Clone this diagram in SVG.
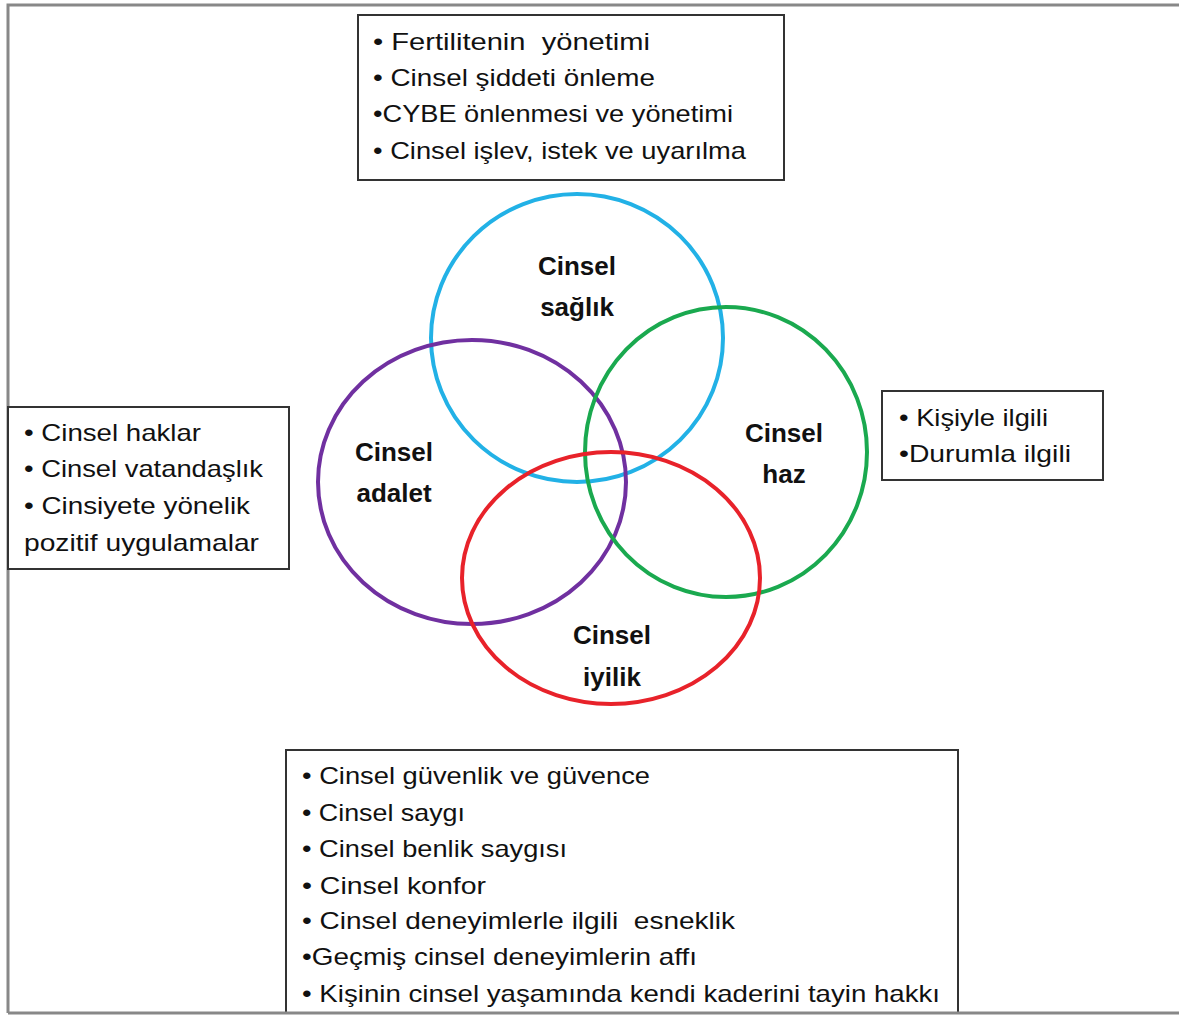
<svg xmlns="http://www.w3.org/2000/svg" width="1179" height="1016" viewBox="0 0 1179 1016">
<style>
.box{fill:#fff;stroke:#333;stroke-width:2}
.t{font-family:"Liberation Sans",Arial,sans-serif;font-size:24px;fill:#111;white-space:pre}
.h{font-family:"Liberation Sans",Arial,sans-serif;font-size:26px;font-weight:bold;fill:#111;text-anchor:middle}
.c{fill:none;stroke-width:4}
</style>
<rect x="0" y="0" width="1179" height="1016" fill="#fff"/>
<path d="M8 1013 V5 H1179" fill="none" stroke="#888" stroke-width="3"/>
<g id="circles">
<g id="saglik"><ellipse class="c" cx="577" cy="338" rx="146" ry="144" stroke="#22b1e6"/></g>
<g id="adalet"><ellipse class="c" cx="472" cy="482" rx="154" ry="142" stroke="#7030a0"/></g>
<g id="haz"><ellipse class="c" cx="726" cy="452" rx="141" ry="145" stroke="#1aa94f"/></g>
<g id="iyilik"><ellipse class="c" cx="611" cy="578" rx="149" ry="126" stroke="#e8222a"/></g>
</g>
<g id="labels">
<text class="h" x="577" y="275">Cinsel</text><text class="h" x="577" y="316">sağlık</text>
<text class="h" x="394" y="461">Cinsel</text><text class="h" x="394" y="502">adalet</text>
<text class="h" x="784" y="442">Cinsel</text><text class="h" x="784" y="483">haz</text>
<text class="h" x="612" y="644">Cinsel</text><text class="h" x="612" y="686">iyilik</text>
</g>
<g id="box-top">
<rect class="box" x="358" y="15" width="426" height="165"/>
<text class="t" x="373" y="50" textLength="277" lengthAdjust="spacingAndGlyphs" xml:space="preserve">• Fertilitenin  yönetimi</text>
<text class="t" x="373" y="86" textLength="282" lengthAdjust="spacingAndGlyphs">• Cinsel şiddeti önleme</text>
<text class="t" x="373" y="122" textLength="360" lengthAdjust="spacingAndGlyphs">•CYBE önlenmesi ve yönetimi</text>
<text class="t" x="373" y="159" textLength="373" lengthAdjust="spacingAndGlyphs">• Cinsel işlev, istek ve uyarılma</text>
</g>
<g id="box-left">
<rect class="box" x="8" y="407" width="281" height="162"/>
<text class="t" x="24" y="441" textLength="177" lengthAdjust="spacingAndGlyphs">• Cinsel haklar</text>
<text class="t" x="24" y="477" textLength="239" lengthAdjust="spacingAndGlyphs">• Cinsel vatandaşlık</text>
<text class="t" x="24" y="514" textLength="226" lengthAdjust="spacingAndGlyphs">• Cinsiyete yönelik</text>
<text class="t" x="24" y="551" textLength="235" lengthAdjust="spacingAndGlyphs">pozitif uygulamalar</text>
</g>
<g id="box-right">
<rect class="box" x="882" y="391" width="221" height="89"/>
<text class="t" x="899" y="426" textLength="149" lengthAdjust="spacingAndGlyphs">• Kişiyle ilgili</text>
<text class="t" x="899" y="462" textLength="172" lengthAdjust="spacingAndGlyphs">•Durumla ilgili</text>
</g>
<g id="box-bottom">
<rect class="box" x="286" y="750" width="672" height="263"/>
<text class="t" x="302" y="784" textLength="348" lengthAdjust="spacingAndGlyphs">• Cinsel güvenlik ve güvence</text>
<text class="t" x="302" y="821" textLength="163" lengthAdjust="spacingAndGlyphs">• Cinsel saygı</text>
<text class="t" x="302" y="857" textLength="265" lengthAdjust="spacingAndGlyphs">• Cinsel benlik saygısı</text>
<text class="t" x="302" y="894" textLength="184" lengthAdjust="spacingAndGlyphs">• Cinsel konfor</text>
<text class="t" x="302" y="929" textLength="433" lengthAdjust="spacingAndGlyphs" xml:space="preserve">• Cinsel deneyimlerle ilgili  esneklik</text>
<text class="t" x="302" y="965" textLength="395" lengthAdjust="spacingAndGlyphs">•Geçmiş cinsel deneyimlerin affı</text>
<text class="t" x="302" y="1002" textLength="638" lengthAdjust="spacingAndGlyphs">• Kişinin cinsel yaşamında kendi kaderini tayin hakkı</text>
</g>
<path d="M8 1013 H1179" fill="none" stroke="#888" stroke-width="3"/>
</svg>
